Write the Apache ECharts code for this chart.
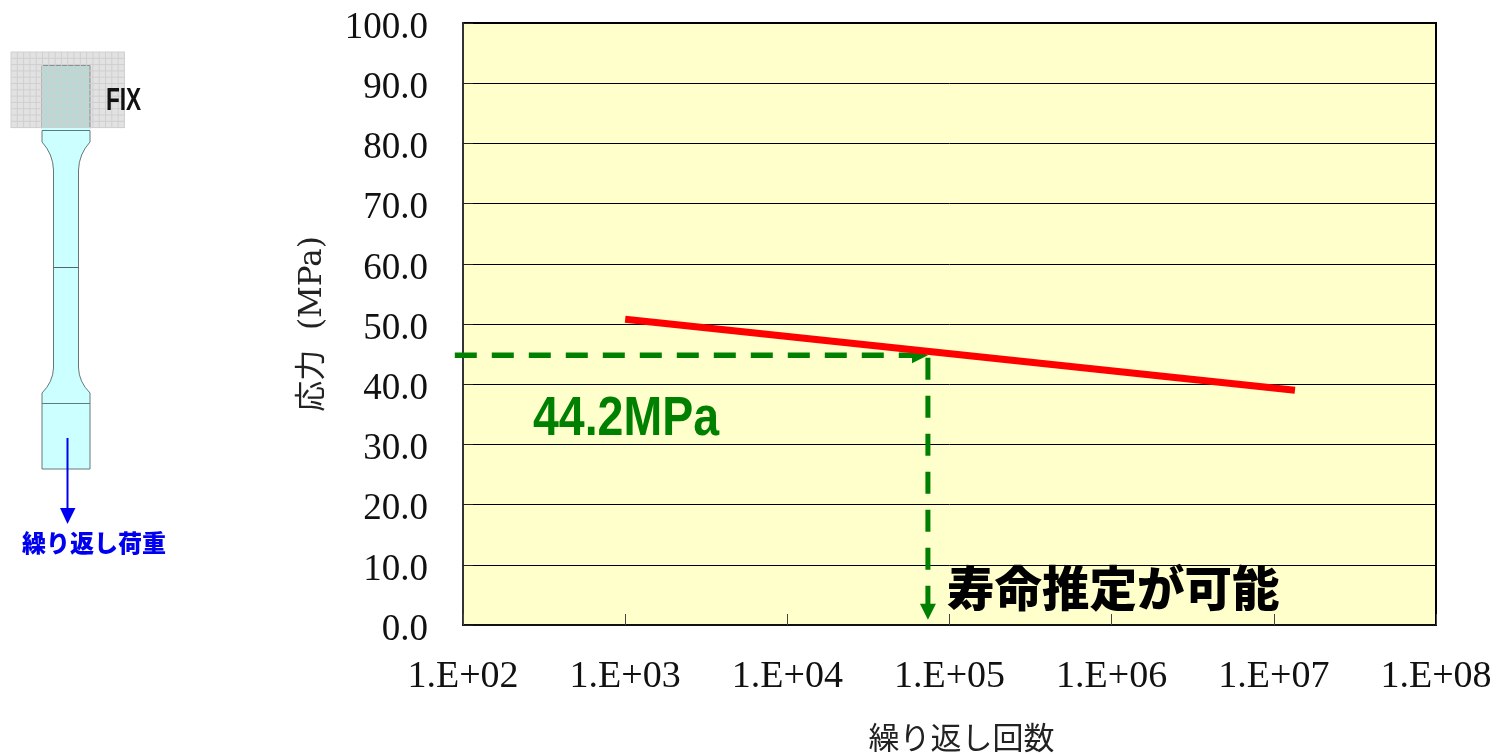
<!DOCTYPE html>
<html>
<head>
<meta charset="utf-8">
<style>
    html, body { margin: 0; padding: 0; background: #fff; }
    #chart { width: 1496px; height: 755px; }
</style>
<script src="https://cdn.jsdelivr.net/npm/echarts@6/dist/echarts.min.js"></script>
</head>
<body>
<div id="chart"></div>
<script>
// --- Data ---
const xTickLabels = ['1.E+02', '1.E+03', '1.E+04', '1.E+05', '1.E+06', '1.E+07', '1.E+08'];
const curveCycles = [1000, 13500000];
const curveStress = [50.8, 39.0];
// Dashed readout: from the stress axis to the curve, then down to the cycle axis
const readoutCycles = [89, 65800];
const readoutStress = [44.8, 44.8];
const dropCycles = [73600, 73600];
const dropStress = [44.4, 2.2];

const SERIF = '"Liberation Serif", "Noto Sans CJK JP", serif';
const GREEN = '#008000';
const BLUE = '#0000f0';

// --- Specimen sketch on the left (not data) ---
echarts.graphic.registerShape('specimenBody', echarts.graphic.extendPath(
    'M42 130.5 L90 130.5 L90 142 Q79 154 78.5 170 L78.5 368 Q79 382 90 393 L90 469 L42 469 L42 393 Q53 382 53.5 368 L53.5 170 Q53 154 42 142 Z',
    {}
));

function fixGrid() {
    const lines = [];
    for (let x = 11; x <= 125; x += 6.3) {
        lines.push({ type: 'line', shape: { x1: x, y1: 52, x2: x, y2: 128 }, style: { stroke: '#cfcfcf', lineWidth: 1 } });
    }
    for (let y = 52; y <= 128; y += 6.3) {
        lines.push({ type: 'line', shape: { x1: 11, y1: y, x2: 125, y2: y }, style: { stroke: '#cfcfcf', lineWidth: 1 } });
    }
    return lines;
}

const specimen = [
    { type: 'rect', shape: { x: 11, y: 52, width: 114, height: 76 }, style: { fill: '#e2e2e2' } },
    { type: 'rect', shape: { x: 42, y: 65.5, width: 48, height: 63 }, style: { fill: '#b9d9d5', stroke: '#888', lineWidth: 1 } },
    ...fixGrid(),
    { type: 'rect', shape: { x: 42, y: 128, width: 48, height: 3 }, style: { fill: '#ccffff' } },
    { type: 'specimenBody', style: { fill: '#ccffff', stroke: '#667777', lineWidth: 1 } },
    { type: 'line', shape: { x1: 53.5, y1: 267.5, x2: 78.5, y2: 267.5 }, style: { stroke: '#556666', lineWidth: 1 } },
    { type: 'line', shape: { x1: 42, y1: 403.5, x2: 90, y2: 403.5 }, style: { stroke: '#667777', lineWidth: 1 } },
    { type: 'line', shape: { x1: 67.5, y1: 438, x2: 67.5, y2: 512 }, style: { stroke: BLUE, lineWidth: 2 } },
    { type: 'polygon', shape: { points: [[60, 508], [75.5, 508], [67.5, 524]] }, style: { fill: BLUE } },
    {
        type: 'text', x: 94, y: 543,
        style: { text: '繰り返し荷重', fill: BLUE, font: '900 24px "Noto Sans CJK JP"', align: 'center', verticalAlign: 'middle' }
    },
    {
        type: 'text', x: 106, y: 101, scaleX: 0.73,
        style: { text: 'FIX', fill: '#111', font: 'bold 31px "Liberation Sans"', align: 'left', verticalAlign: 'middle' }
    }
];

// --- Annotations on the plot ---
const notes = [
    {
        type: 'text', x: 533, y: 420, z: 10, scaleX: 0.83,
        style: { text: '44.2MPa', fill: GREEN, font: 'bold 56px "Liberation Sans"', align: 'left', verticalAlign: 'middle' }
    },
    {
        type: 'text', x: 947, y: 588, z: 10,
        style: { text: '寿命推定が可能', fill: '#000', font: '900 47.5px "Noto Sans CJK JP"', align: 'left', verticalAlign: 'middle' }
    }
];

// The horizontal readout starts left of the axis, so it is a custom series (line series get clipped to the grid)
function renderReadout(params, api) {
    if (params.dataIndexInside !== 0) return;
    const from = api.coord([api.value(0, 0), api.value(1, 0)]);
    const to = api.coord([api.value(0, 1), api.value(1, 1)]);
    return {
        type: 'group',
        children: [
            {
                type: 'line',
                shape: { x1: from[0], y1: from[1], x2: to[0], y2: to[1] },
                style: { stroke: GREEN, lineWidth: 5.5, lineDash: [22, 15], fill: null }
            },
            {
                type: 'polygon',
                shape: { points: [[to[0] - 8, to[1] - 8], [to[0] + 8, to[1]], [to[0] - 8, to[1] + 8]] },
                style: { fill: GREEN }
            }
        ]
    };
}

const chart = echarts.init(document.getElementById('chart'), null, { renderer: 'canvas' });
chart.setOption({
    animation: false,
    backgroundColor: '#fff',
    grid: {
        left: 463, top: 23, width: 973, height: 602,
        outerBoundsMode: 'none',
        show: true, backgroundColor: '#ffffcc', borderColor: '#000', borderWidth: 2
    },
    xAxis: {
        type: 'log',
        logBase: 10,
        min: 100,
        max: 100000000,
        name: '繰り返し回数',
        nameLocation: 'middle',
        nameGap: 100,
        nameTextStyle: { fontFamily: SERIF, fontSize: 31, color: '#222', padding: [0, 0, 0, 24] },
        axisLine: { lineStyle: { color: '#111', width: 2 } },
        axisTick: { inside: true, length: 11, lineStyle: { color: '#444', width: 1 } },
        minorTick: { show: false },
        splitLine: { show: false },
        axisLabel: {
            margin: 33,
            fontFamily: SERIF,
            fontSize: 38,
            color: '#111',
            hideOverlap: false,
            showMinLabel: true,
            showMaxLabel: true,
            formatter: v => xTickLabels[Math.round(Math.log10(v)) - 2]
        }
    },
    yAxis: {
        type: 'value',
        min: 0,
        max: 100,
        interval: 10,
        name: '応力  (MPa)',
        nameLocation: 'middle',
        nameRotate: 90,
        nameGap: 135,
        nameTextStyle: { fontFamily: '"DejaVu Serif", "Noto Sans CJK JP", serif', fontSize: 31, color: '#222' },
        axisLine: { show: true, lineStyle: { color: '#333', width: 2 } },
        axisTick: { show: true, inside: true, length: 10, lineStyle: { color: '#222', width: 1 } },
        splitLine: { show: true, lineStyle: { color: '#000', width: 1 } },
        axisLabel: {
            margin: 35,
            fontFamily: SERIF,
            fontSize: 37,
            color: '#111',
            verticalAlign: 'top',
            lineHeight: 10,
            formatter: v => v.toFixed(1)
        }
    },
    graphic: { elements: specimen.concat(notes) },
    series: [
        {
            type: 'custom',
            coordinateSystem: 'cartesian2d',
            clip: false,
            z: 3,
            renderItem: renderReadout,
            encode: { x: 0, y: 1 },
            data: readoutCycles.map((c, i) => [c, readoutStress[i]])
        },
        {
            type: 'line',
            clip: false,
            z: 3,
            symbol: 'none',
            data: dropCycles.map((c, i) => i === dropCycles.length - 1
                ? { value: [c, dropStress[i]], symbol: 'triangle', symbolSize: 16, symbolRotate: 180 }
                : { value: [c, dropStress[i]] }),
            itemStyle: { color: GREEN },
            lineStyle: { color: GREEN, width: 5, type: [22, 16] }
        },
        {
            type: 'line',
            z: 4,
            symbol: 'none',
            data: curveCycles.map((c, i) => [c, curveStress[i]]),
            lineStyle: { color: '#ff0000', width: 7, cap: 'butt' }
        }
    ]
});
</script>
</body>
</html>
